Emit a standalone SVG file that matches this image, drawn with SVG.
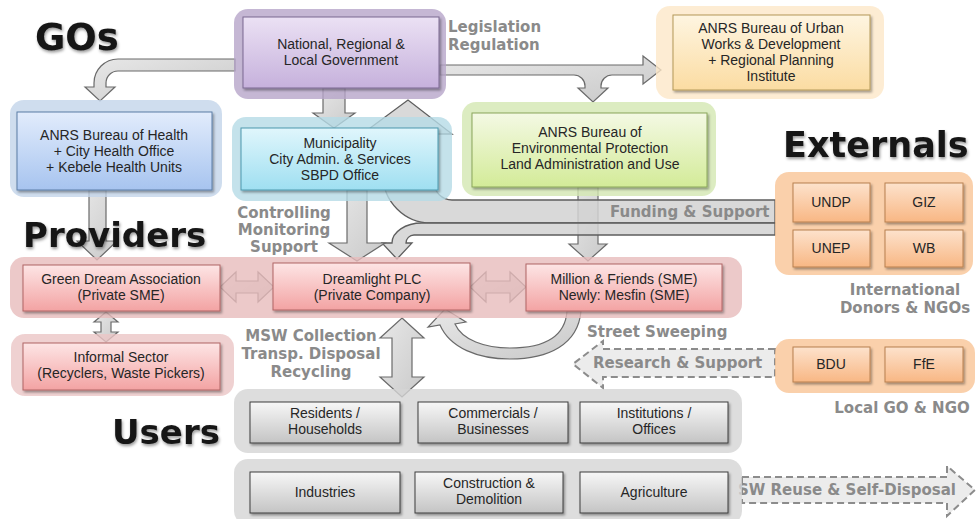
<svg xmlns="http://www.w3.org/2000/svg" width="976" height="519" viewBox="0 0 976 519">
  <defs>
    <linearGradient id="gPurple" x1="0" y1="0" x2="0" y2="1"><stop offset="0" stop-color="#ebe1f4"/><stop offset="1" stop-color="#c6b1dc"/></linearGradient>
    <linearGradient id="gBlue" x1="0" y1="0" x2="0" y2="1"><stop offset="0" stop-color="#e2ecfc"/><stop offset="1" stop-color="#a7c4ef"/></linearGradient>
    <linearGradient id="gCyan" x1="0" y1="0" x2="0" y2="1"><stop offset="0" stop-color="#e0f6fc"/><stop offset="1" stop-color="#9fdff1"/></linearGradient>
    <linearGradient id="gGreen" x1="0" y1="0" x2="0" y2="1"><stop offset="0" stop-color="#f4f9e4"/><stop offset="1" stop-color="#d3eb98"/></linearGradient>
    <linearGradient id="gYellow" x1="0" y1="0" x2="0" y2="1"><stop offset="0" stop-color="#fef5e1"/><stop offset="1" stop-color="#fbdca2"/></linearGradient>
    <linearGradient id="gOrange" x1="0" y1="0" x2="0" y2="1"><stop offset="0" stop-color="#fde2cc"/><stop offset="1" stop-color="#f8b784"/></linearGradient>
    <linearGradient id="gRed" x1="0" y1="0" x2="0" y2="1"><stop offset="0" stop-color="#fde5e5"/><stop offset="1" stop-color="#f3a3a3"/></linearGradient>
    <linearGradient id="gGray" x1="0" y1="0" x2="0" y2="1"><stop offset="0" stop-color="#f7f7f7"/><stop offset="1" stop-color="#c4c4c4"/></linearGradient>
    <linearGradient id="gArrow" x1="0" y1="0" x2="1" y2="1"><stop offset="0" stop-color="#e8e8e8"/><stop offset="1" stop-color="#c9c9c9"/></linearGradient>
    <filter id="sh" x="-10%" y="-10%" width="125%" height="135%">
      <feDropShadow dx="1.5" dy="2" stdDeviation="1.2" flood-color="#000" flood-opacity="0.35"/>
    </filter>
    <filter id="hs" x="-10%" y="-20%" width="125%" height="150%">
      <feDropShadow dx="1" dy="2" stdDeviation="1.5" flood-color="#000" flood-opacity="0.4"/>
    </filter>
  </defs>
  <style>
    .panel { stroke: none; opacity: 0.8; }
    .box { stroke-width: 1; filter: url(#sh); }
    .t { font-family: "Liberation Sans", Arial, sans-serif; font-size: 14px; fill: #262626; text-anchor: middle; }
    .lbl { font-family: "DejaVu Sans", "Liberation Sans", sans-serif; font-weight: bold; font-size: 15px; fill: #8a8a8a; }
    .head { font-family: "DejaVu Sans", "Liberation Sans", sans-serif; font-weight: bold; fill: #141414; filter: url(#hs); }
    .arrow { fill: url(#gArrow); stroke: #6a6a6a; stroke-width: 1.2; stroke-linejoin: miter; }
    .band { fill: #d2d2d2; fill-opacity: 0.85; stroke: #5e5e5e; stroke-width: 1.3; }
    .dash { fill: #ececec; stroke: #8c8c8c; stroke-width: 2; stroke-dasharray: 7 4; }
  </style>

  <rect width="976" height="519" fill="#ffffff"/>

  <!-- connectors -->
  <g id="connectors">
    <!-- GOs to health bureau -->
    <path class="arrow" d="M235,59 H118 A24,24 0 0 0 94,83 V87 H85 L100,101 L115,87 H106 V83 A12,12 0 0 1 118,71 H235 Z"/>
    <!-- legislation / regulation, with branch to environmental bureau -->
    <path class="arrow" d="M440,65 H643 V56 L661,70 L643,84 V75 H612 A11,11 0 0 0 601,86 V88 H608 L593,102 L578,88 H585 V86 A11,11 0 0 0 574,75 H440 Z"/>
    <!-- government to municipality -->
    <path class="arrow" d="M323,88 H345 V113 H355 L334,128 L313,113 H323 Z"/>
    <!-- environmental bureau to Million & Friends -->
    <path class="arrow" d="M578,187 H598 V244 H607 L588,261 L569,244 H578 Z"/>
    <!-- funding & support: up to government, down to Dreamlight -->
    <path class="band" d="M775,200 H452 A18,18 0 0 1 434,182 V134 H452 L408,100 L362,134 H383 V175 A48,48 0 0 0 431,223 H775 Z"/>
    <path class="band" d="M775,223 H422 A30,20 0 0 0 392,243 H382 L397,259 L412,243 H406 A8,8 0 0 1 414,235 H775 Z"/>
    <!-- health bureau to Green Dream -->
    <path class="arrow" d="M89,190 H106 V241 H117 L97,260 L77,241 H89 Z"/>
    <!-- municipality to Dreamlight -->
    <path class="arrow" d="M347,190 H367 V243 H385 L357,261 L329,243 H347 Z"/>
    <!-- provider links -->
    <path class="arrow" d="M220,287 L236,272 V281 H258 V272 L274,287 L258,302 V293 H236 V302 Z"/>
    <path class="arrow" d="M470,287 L486,272 V281 H510 V272 L526,287 L510,302 V293 H486 V302 Z"/>
    <path class="arrow" d="M106,312 L118,322 H111 V332 H118 L106,342 L94,332 H101 V322 H94 Z"/>
    <!-- MSW collection between providers and users -->
    <path class="arrow" d="M402,318 L424,338 H412 V377 H424 L402,397 L380,377 H392 V338 H380 Z"/>
    <!-- street sweeping loop -->
    <path class="arrow" d="M567,311 C565,340 540,348 510,348 C485,348 462,340 455,324 L466,322 L445,309 L428,327 L440,325 C450,348 478,359 510,359 C548,359 578,345 581,311 Z"/>
    <!-- research & support -->
    <path class="dash" d="M775,349 H603 V341 L573,364 L603,388 V377 H775 Z"/>
    <!-- SW reuse & self-disposal -->
    <path class="dash" d="M742,477 H947 V466 L975,490 L947,516 V503 H742 Z"/>

    <text class="lbl" x="448" y="32">Legislation</text>
    <text class="lbl" x="448" y="50">Regulation</text>
    <text class="lbl" x="284" y="218" text-anchor="middle" font-size="14.5">Controlling</text>
    <text class="lbl" x="284" y="235" text-anchor="middle" font-size="14.5">Monitoring</text>
    <text class="lbl" x="284" y="252" text-anchor="middle" font-size="14.5">Support</text>
    <text class="lbl" x="610" y="217" font-size="14.5">Funding &amp; Support</text>
    <text class="lbl" x="311" y="341" text-anchor="middle">MSW Collection</text>
    <text class="lbl" x="311" y="359" text-anchor="middle">Transp. Disposal</text>
    <text class="lbl" x="311" y="377" text-anchor="middle">Recycling</text>
    <text class="lbl" x="587" y="337">Street Sweeping</text>
    <text class="lbl" x="593" y="368">Research &amp; Support</text>
    <text class="lbl" x="738" y="495">SW Reuse &amp; Self-Disposal</text>
  </g>

  <!-- government organisations -->
  <g id="gov">
    <rect class="panel" x="234" y="9" width="212" height="90" rx="14" fill="#b7a5c9"/>
    <rect class="box" x="243" y="17" width="196" height="71" fill="url(#gPurple)" stroke="#7b6891"/>
    <text class="t" x="341" y="49">National, Regional  &amp;</text>
    <text class="t" x="341" y="65">Local Government</text>
  </g>

  <g id="health">
    <rect class="panel" x="10" y="100" width="212" height="97" rx="14" fill="#c3d4ea"/>
    <rect class="box" x="17" y="112" width="195" height="78" fill="url(#gBlue)" stroke="#5b7ca6"/>
    <text class="t" x="114" y="140">ANRS Bureau of Health</text>
    <text class="t" x="114" y="156">+ City Health Office</text>
    <text class="t" x="114" y="172">+ Kebele Health Units</text>
  </g>

  <g id="municipality">
    <rect class="panel" x="232" y="117" width="220" height="84" rx="14" fill="#b5dbe6" opacity="0.65"/>
    <rect class="box" x="241" y="128" width="197" height="62" fill="url(#gCyan)" stroke="#4d98ad"/>
    <text class="t" x="340" y="148">Municipality</text>
    <text class="t" x="340" y="164">City Admin. &amp; Services</text>
    <text class="t" x="340" y="180">SBPD Office</text>
  </g>

  <g id="environment">
    <rect class="panel" x="462" y="102" width="254" height="94" rx="14" fill="#d3e7b1"/>
    <rect class="box" x="472" y="113" width="235" height="74" fill="url(#gGreen)" stroke="#8aa65a"/>
    <text class="t" x="590" y="137">ANRS Bureau of</text>
    <text class="t" x="590" y="153">Environmental Protection</text>
    <text class="t" x="590" y="169">Land Administration and Use</text>
  </g>

  <g id="urban">
    <rect class="panel" x="656" y="6" width="228" height="93" rx="14" fill="#fce7c8"/>
    <rect class="box" x="673" y="15" width="197" height="75" fill="url(#gYellow)" stroke="#b39858"/>
    <text class="t" x="771" y="33">ANRS Bureau of Urban</text>
    <text class="t" x="771" y="49">Works &amp; Development</text>
    <text class="t" x="771" y="65">+ Regional Planning</text>
    <text class="t" x="771" y="81">Institute</text>
  </g>

  <!-- external partners -->
  <g id="international">
    <rect class="panel" x="775" y="172" width="198" height="103" rx="14" fill="#f9c496"/>
    <rect class="box" x="793" y="183" width="77" height="39" fill="url(#gOrange)" stroke="#b8804f"/>
    <rect class="box" x="885" y="183" width="78" height="39" fill="url(#gOrange)" stroke="#b8804f"/>
    <rect class="box" x="793" y="230" width="77" height="37" fill="url(#gOrange)" stroke="#b8804f"/>
    <rect class="box" x="885" y="230" width="78" height="37" fill="url(#gOrange)" stroke="#b8804f"/>
    <text class="t" x="831" y="207">UNDP</text>
    <text class="t" x="924" y="207">GIZ</text>
    <text class="t" x="831" y="253">UNEP</text>
    <text class="t" x="924" y="253">WB</text>
    <text class="lbl" x="905" y="295" text-anchor="middle">International</text>
    <text class="lbl" x="905" y="313" text-anchor="middle">Donors &amp; NGOs</text>
  </g>

  <g id="local">
    <rect class="panel" x="775" y="339" width="200" height="54" rx="14" fill="#f9c496"/>
    <rect class="box" x="793" y="347" width="77" height="35" fill="url(#gOrange)" stroke="#b8804f"/>
    <rect class="box" x="885" y="347" width="78" height="35" fill="url(#gOrange)" stroke="#b8804f"/>
    <text class="t" x="831" y="369">BDU</text>
    <text class="t" x="924" y="369">FfE</text>
    <text class="lbl" x="902" y="413" text-anchor="middle">Local GO &amp; NGO</text>
  </g>

  <!-- service providers -->
  <g id="providers">
    <rect class="panel" x="10" y="257" width="732" height="61" rx="14" fill="#e7bcbc"/>
    <rect class="box" x="23" y="265" width="197" height="46" fill="url(#gRed)" stroke="#b06565"/>
    <text class="t" x="121" y="284">Green Dream Association</text>
    <text class="t" x="121" y="300">(Private SME)</text>
    <rect class="box" x="273" y="263" width="197" height="47" fill="url(#gRed)" stroke="#b06565"/>
    <text class="t" x="372" y="284">Dreamlight PLC</text>
    <text class="t" x="372" y="300">(Private Company)</text>
    <rect class="box" x="526" y="264" width="196" height="47" fill="url(#gRed)" stroke="#b06565"/>
    <text class="t" x="624" y="284">Million &amp; Friends (SME)</text>
    <text class="t" x="624" y="300">Newly: Mesfin (SME)</text>
  </g>

  <g id="informal">
    <rect class="panel" x="11" y="334" width="223" height="62" rx="14" fill="#ebc6c6"/>
    <rect class="box" x="23" y="343" width="197" height="47" fill="url(#gRed)" stroke="#b06565"/>
    <text class="t" x="121" y="362">Informal Sector</text>
    <text class="t" x="121" y="378">(Recyclers, Waste Pickers)</text>
  </g>

  <!-- waste generators -->
  <g id="users-top">
    <rect class="panel" x="234" y="389" width="508" height="64" rx="14" fill="#d4d4d4"/>
    <rect class="box" x="250" y="402" width="150" height="41" fill="url(#gGray)" stroke="#3c3c3c"/>
    <text class="t" x="325" y="418">Residents /</text>
    <text class="t" x="325" y="434">Households</text>
    <rect class="box" x="418" y="402" width="150" height="41" fill="url(#gGray)" stroke="#3c3c3c"/>
    <text class="t" x="493" y="418">Commercials /</text>
    <text class="t" x="493" y="434">Businesses</text>
    <rect class="box" x="580" y="402" width="148" height="41" fill="url(#gGray)" stroke="#3c3c3c"/>
    <text class="t" x="654" y="418">Institutions /</text>
    <text class="t" x="654" y="434">Offices</text>
  </g>

  <g id="users-bottom">
    <rect class="panel" x="234" y="459" width="508" height="66" rx="14" fill="#d4d4d4"/>
    <rect class="box" x="250" y="472" width="150" height="41" fill="url(#gGray)" stroke="#3c3c3c"/>
    <text class="t" x="325" y="497">Industries</text>
    <rect class="box" x="415" y="472" width="148" height="41" fill="url(#gGray)" stroke="#3c3c3c"/>
    <text class="t" x="489" y="488">Construction &amp;</text>
    <text class="t" x="489" y="504">Demolition</text>
    <rect class="box" x="580" y="472" width="148" height="41" fill="url(#gGray)" stroke="#3c3c3c"/>
    <text class="t" x="654" y="497">Agriculture</text>
  </g>

  <!-- section headings, drawn over the arrows -->
  <g id="headings">
    <text class="head" x="35" y="50" font-size="37">GOs</text>
    <text class="head" x="783" y="157" font-size="35">Externals</text>
    <text class="head" x="23" y="247" font-size="34">Providers</text>
    <text class="head" x="112" y="444" font-size="34">Users</text>
  </g>
</svg>
